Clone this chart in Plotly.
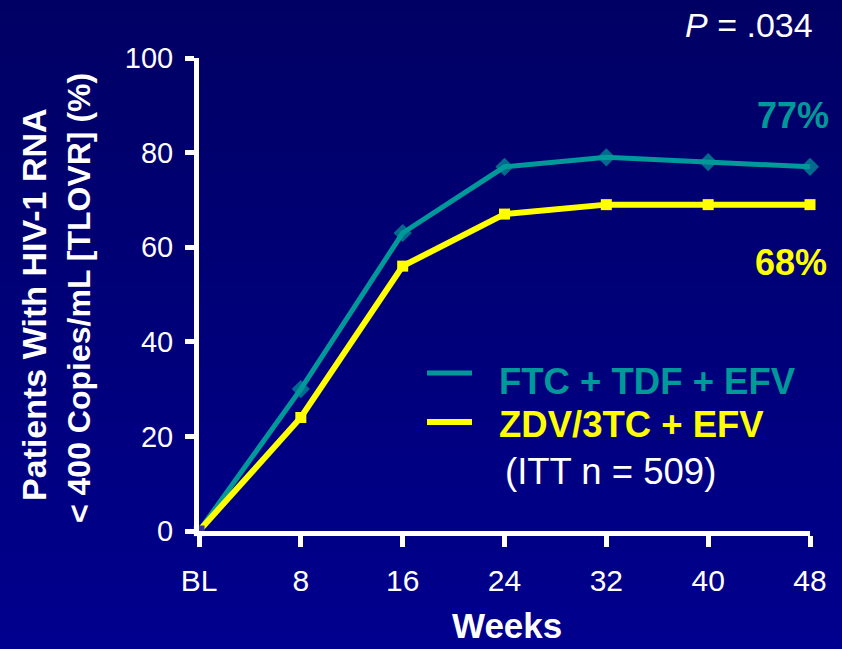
import plotly.graph_objects as go

# ---- data ----
weeks = [0, 8, 16, 24, 32, 40, 48]
tick_labels = ["BL", "8", "16", "24", "32", "40", "48"]
series_names = ["FTC + TDF + EFV", "ZDV/3TC + EFV"]
ftc_tdf_efv = [0, 30, 63, 77, 79, 78, 77]
zdv_3tc_efv = [0, 24, 56, 67, 69, 69, 69]
final_labels = ["77%", "68%"]
y_ticks = [0, 20, 40, 60, 80, 100]

W, H = 842, 649
L, R, T, B = 199, 810, 58, 531
TEAL = "#009999"
YEL = "#FFFF00"
FONT = "Liberation Sans, Arial, sans-serif"


def px(x):
    return (x - L) / (R - L)


def py(y):
    return (B - y) / (B - T)


fig = go.Figure()

fig.add_trace(go.Scatter(
    x=weeks, y=ftc_tdf_efv, mode="lines+markers", name=series_names[0],
    line=dict(color=TEAL, width=5),
    marker=dict(symbol="diamond", size=[0] + [14] * (len(weeks) - 1), color=TEAL,
                line=dict(width=0)),
    cliponaxis=False, showlegend=False))
fig.add_trace(go.Scatter(
    x=weeks, y=zdv_3tc_efv, mode="lines+markers", name=series_names[1],
    line=dict(color=YEL, width=6),
    marker=dict(symbol="square", size=11,
                color=["#333399"] + [YEL] * (len(weeks) - 1),
                line=dict(width=0)),
    cliponaxis=False, showlegend=False))

# gradient background bands
shapes = []
n = 60
for i in range(n):
    y0 = H * i / n
    y1 = H * (i + 1) / n + 1
    t = (i + 0.5) / n
    b = int(round(100 + (142 - 100) * t))
    shapes.append(dict(type="rect", xref="paper", yref="paper", layer="below",
                       x0=px(0), x1=px(W), y0=py(y1), y1=py(y0),
                       fillcolor=f"rgb(0,0,{b})", line=dict(width=0)))

# legend swatches
shapes.append(dict(type="line", xref="paper", yref="paper",
                   x0=px(427), x1=px(472), y0=py(373), y1=py(373),
                   line=dict(color=TEAL, width=5)))
shapes.append(dict(type="line", xref="paper", yref="paper",
                   x0=px(427), x1=px(472), y0=py(422), y1=py(422),
                   line=dict(color=YEL, width=6)))

annotations = [
    dict(text="<i>P</i> = .034", x=px(815), y=py(25), xanchor="right", yanchor="middle",
         font=dict(size=34, color="white", family=FONT)),
    dict(text=f"<b>{final_labels[0]}</b>", x=px(831), y=py(115), xanchor="right", yanchor="middle",
         font=dict(size=36, color=TEAL, family=FONT)),
    dict(text=f"<b>{final_labels[1]}</b>", x=px(829), y=py(262), xanchor="right", yanchor="middle",
         font=dict(size=36, color=YEL, family=FONT)),
    dict(text=f"<b>{series_names[0]}</b>", x=px(497), y=py(381), xanchor="left", yanchor="middle",
         font=dict(size=36.5, color=TEAL, family=FONT)),
    dict(text=f"<b>{series_names[1]}</b>", x=px(497), y=py(424), xanchor="left", yanchor="middle",
         font=dict(size=36.5, color=YEL, family=FONT)),
    dict(text="(ITT n = 509)", x=px(503), y=py(471), xanchor="left", yanchor="middle",
         font=dict(size=36.5, color="white", family=FONT)),
    dict(text="<b>Patients With HIV-1 RNA</b>", x=px(34), y=py(304), textangle=-90,
         xanchor="center", yanchor="middle",
         font=dict(size=34, color="white", family=FONT)),
    dict(text="<b>< 400 Copies/mL [TLOVR] (%)</b>", x=px(79), y=py(298), textangle=-90,
         xanchor="center", yanchor="middle",
         font=dict(size=32, color="white", family=FONT)),
    dict(text="<b>Weeks</b>", x=px(507), y=py(625), xanchor="center", yanchor="middle",
         font=dict(size=35, color="white", family=FONT)),
]
for a in annotations:
    a.update(xref="paper", yref="paper", showarrow=False)

fig.update_layout(
    width=W, height=H,
    margin=dict(l=L, r=W - R, t=T, b=H - B, pad=0),
    paper_bgcolor="#000080", plot_bgcolor="rgba(0,0,0,0)",
    shapes=shapes, annotations=annotations,
    font=dict(family=FONT, color="white"),
    xaxis=dict(range=[0, 48], tickvals=weeks, ticktext=tick_labels,
               showgrid=False, zeroline=False, showline=True, linecolor="white", linewidth=5,
               ticks="outside", ticklen=11, tickwidth=5, tickcolor="white",
               tickfont=dict(size=30, color="white", family=FONT), ticklabelstandoff=8),
    yaxis=dict(range=[0, 100], tickvals=y_ticks,
               showgrid=False, zeroline=False, showline=True, linecolor="white", linewidth=5,
               ticks="outside", ticklen=9, tickwidth=5, tickcolor="white",
               tickfont=dict(size=29, color="white", family=FONT), ticklabelstandoff=6),
)

fig.write_html("out.html")
